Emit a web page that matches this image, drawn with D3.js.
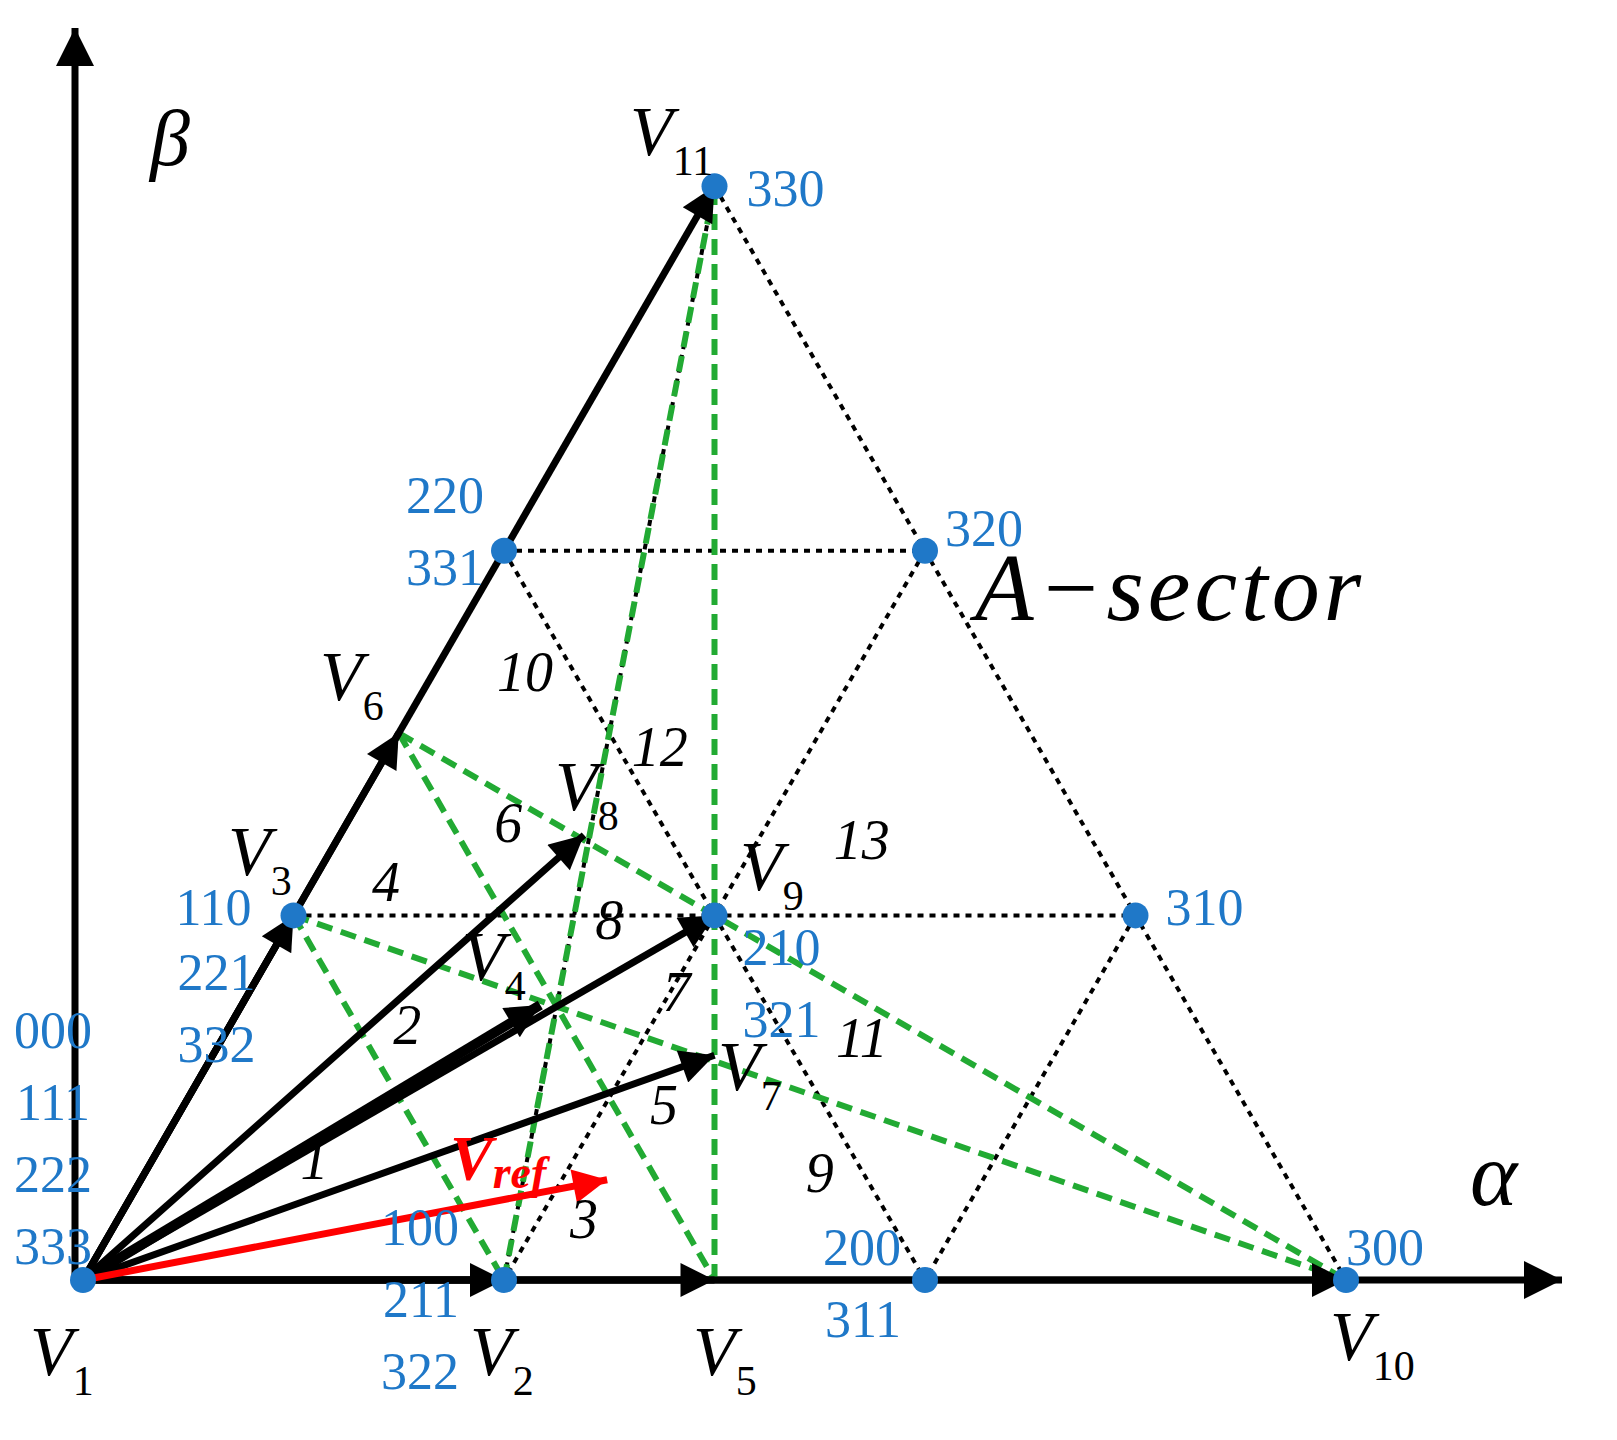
<!DOCTYPE html><html><head><meta charset="utf-8">
<script src="https://cdn.jsdelivr.net/npm/d3@7"></script>
<style>body{margin:0;background:#fff} text{font-family:"Liberation Serif","Times New Roman","DejaVu Serif",serif}</style></head><body><svg id="c" width="1617" height="1440"></svg>
<script>
const S=Math.sqrt(3)/2;
const lattice=[["V1",0,0],["V2",1,0],["200",2,0],["V10",3,0],["V3",0.5,S],["V9",1.5,S],["310",2.5,S],["220",1,2*S],["320",2,2*S],["V11",1.5,3*S]];
const extra=[["V5",1.5,0],["V6",0.75,1.5*S],["V4",1.086,0.653],["V7",1.5,0.534],["V8",1.19,1.057],["Vref",1.245,0.238]];
const P={};[...lattice,...extra].forEach(d=>P[d[0]]=[d[1],d[2]]);
const dotted=[["V11","V10"],["220","320"],["V3","310"],["200","V10"],["220","200"],["320","V2"],["310","200"],["V3","220"],["V2","V11"]];
const green=[["V3","V2"],["V3","V10"],["V6","V5"],["V6","V10"],["V2","V11"],["V5","V11"]];
const arrows=[["V1","V11"],["V1","V6"],["V1","V3"],["V1","V8"],["V1","V9"],["V1","V4"],["V1","V7"],["V1","V10"],["V1","V5"],["V1","V2"]];
const codes=[["330",1.5,3*S],["320",2,2*S],["220\n331",1,2*S],["310",2.5,S],["110",0.5,S],["221\n332",0.5,S],["210\n321",1.5,S],["000\n111\n222\n333",0,0],["100\n211\n322",1,0],["200\n311",2,0],["300",3,0]];
const regions=[["1",0.55,0.24],["2",0.77,0.56],["3",1.19,0.1],["4",0.72,0.9],["5",1.38,0.37],["6",1.01,1.04],["7",1.41,0.64],["8",1.25,0.81],["9",1.75,0.21],["10",1.05,1.4],["11",1.85,0.53],["12",1.37,1.22],["13",1.85,1.0]];

const x=d3.scaleLinear([0,3],[83,1346]),y=d3.scaleLinear([0,3],[1280,17]);
const svg=d3.select("#c");
const defs=svg.append("defs");
function mk(id,c,w,h){defs.append("marker").attr("id",id).attr("viewBox","0 0 10 10").attr("refX",10).attr("refY",5).attr("markerUnits","userSpaceOnUse").attr("markerWidth",w).attr("markerHeight",h).attr("orient","auto").append("path").attr("d","M0,0L10,5L0,10z").attr("fill",c);}
mk("ab","#000",46,34);mk("ar","#f00",50,34);mk("ax","#000",46,38);
const ln=(a,b)=>({x1:x(P[a][0]),y1:y(P[a][1]),x2:x(P[b][0]),y2:y(P[b][1])});
function line(sel,a,b){const l=ln(a,b);return sel.append("line").attr("x1",l.x1).attr("y1",l.y1).attr("x2",l.x2).attr("y2",l.y2);}
svg.append("line").attr("x1",75).attr("y1",1285).attr("x2",75).attr("y2",28).attr("stroke","#000").attr("stroke-width",7).attr("marker-end","url(#ax)");
svg.append("line").attr("x1",72).attr("y1",1280).attr("x2",1562).attr("y2",1280).attr("stroke","#000").attr("stroke-width",7).attr("marker-end","url(#ax)");
dotted.forEach(([a,b])=>line(svg,a,b).attr("stroke","#000").attr("stroke-width",4).attr("stroke-dasharray","6,6"));
green.forEach(([a,b])=>line(svg,a,b).attr("stroke","#22aa33").attr("stroke-width",6).attr("stroke-dasharray","16,9"));
arrows.forEach(([a,b])=>line(svg,a,b).attr("stroke","#000").attr("stroke-width",b=="V4"?10:7).attr("marker-end","url(#ab)"));
line(svg,"V1","Vref").attr("stroke","#f00").attr("stroke-width",7).attr("marker-end","url(#ar)");
svg.selectAll("circle.d").data(lattice).join("circle").attr("cx",d=>x(d[1])).attr("cy",d=>y(d[2])).attr("r",13).attr("fill","#1f78c8");
const off={"330":[32,20,"start"],"320":[20,-5,"start"],"220\n331":[-20,-38,"end"],"310":[30,10,"start"],"110":[-42,10,"end"],"221\n332":[-38,75,"end"],"210\n321":[28,50,"start"],"000\n111\n222\n333":[-30,-232,"middle"],"100\n211\n322":[-45,-35,"end"],"200\n311":[-24,-15,"end"],"300":[0,-15,"start"]};
codes.forEach(([t,a,b])=>{const o=off[t];const tx=svg.append("text").attr("x",x(a)+o[0]).attr("y",y(b)+o[1]).attr("text-anchor",o[2]).attr("fill","#1f78c8").attr("font-size",52);
 t.split("\n").forEach((s,i)=>tx.append("tspan").attr("x",x(a)+o[0]).attr("dy",i?72:0).text(s));});
regions.forEach(([t,a,b])=>svg.append("text").attr("x",x(a)).attr("y",y(b)).attr("text-anchor","middle").attr("font-style","italic").attr("font-size",56).text(t));
const vl=[["V",1,11,630,155],["V",6,"",320,700],["V",3,"",228,875],["V",8,"",555,810],["V",9,"",740,890],["V",4,"",462,980],["V",7,"",718,1090],["V",1,"",30,1375],["V",2,"",470,1375],["V",5,"",693,1375],["V",10,"",1330,1360]];
vl.forEach(([v,s,s2,px,py])=>{const t=svg.append("text").attr("x",px).attr("y",py).attr("font-size",70);
 t.append("tspan").attr("font-style","italic").text("V");t.append("tspan").attr("font-size",42).attr("dy",20).text(s2||s);});
const vr=svg.append("text").attr("x",450).attr("y",1180).attr("fill","#f00").attr("font-style","italic").attr("font-weight","bold").attr("font-size",64);
vr.append("tspan").text("V");vr.append("tspan").attr("font-size",46).attr("dy",8).text("ref");
svg.append("text").attr("x",150).attr("y",165).attr("font-style","italic").attr("font-size",80).text("β");
svg.append("text").attr("x",1470).attr("y",1205).attr("font-style","italic").attr("font-size",90).text("α");
svg.append("text").attr("x",975).attr("y",620).attr("font-style","italic").attr("font-size",96).attr("letter-spacing",4).text("A−sector");
</script></body></html>
